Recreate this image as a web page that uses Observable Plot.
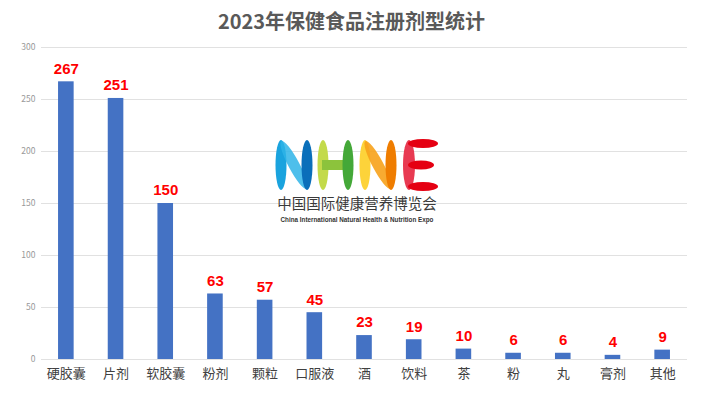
<!DOCTYPE html>
<html><head><meta charset="utf-8">
<script src="https://cdn.jsdelivr.net/npm/d3@7"></script>
<script src="https://cdn.jsdelivr.net/npm/@observablehq/plot@0.6"></script>
<style>
body{margin:0;background:#fff;font-family:"Noto Sans CJK SC","Noto Sans",sans-serif;}
#wrap{position:relative;width:703px;height:398px;overflow:hidden;}
#title{height:38px;line-height:42px;text-align:center;font-size:20px;font-weight:bold;color:#595959;}
#logo{position:absolute;left:0;top:0;pointer-events:none;}
</style></head>
<body><div id="wrap"><div id="title">2023年保健食品注册剂型统计</div><div id="chart"></div>
<svg id="logo" width="703" height="398">
 <g>
  <ellipse cx="281" cy="165" rx="5.5" ry="25" fill="#1aa3de"/>
  <ellipse cx="294" cy="165" rx="5.5" ry="27" fill="#2fb4e8" opacity="0.85" transform="rotate(-28 294 165)"/>
  <ellipse cx="307" cy="165" rx="5.5" ry="25" fill="#0a6fba"/>
  <ellipse cx="323" cy="165" rx="5.5" ry="25" fill="#c3da4a"/>
  <rect x="322" y="160" width="27" height="10" fill="#8cc33c"/>
  <ellipse cx="348" cy="165" rx="5.5" ry="25" fill="#44a838"/>
  <ellipse cx="365" cy="165" rx="5.5" ry="25" fill="#fdd33a"/>
  <ellipse cx="378" cy="165" rx="5.5" ry="27" fill="#f7a21b" opacity="0.9" transform="rotate(-28 378 165)"/>
  <ellipse cx="391" cy="165" rx="5.5" ry="25" fill="#ef7d00"/>
  <ellipse cx="409" cy="165" rx="6" ry="25" fill="#e83a52"/>
  <ellipse cx="423" cy="143.5" rx="15" ry="4.5" fill="#e50012"/>
  <ellipse cx="421" cy="165" rx="13" ry="4.5" fill="#e50012"/>
  <ellipse cx="423" cy="186.5" rx="15" ry="4.5" fill="#e50012"/>
  <text x="357" y="209" text-anchor="middle" font-size="14.5" fill="#3a3a3a" font-family="Noto Sans CJK SC">中国国际健康营养博览会</text>
  <text x="357" y="222" text-anchor="middle" font-size="6.3" font-weight="bold" fill="#333" font-family="Liberation Sans">China International Natural Health &amp; Nutrition Expo</text>
 </g>
</svg>
</div>
<script>
const categories = ["硬胶囊","片剂","软胶囊","粉剂","颗粒","口服液","酒","饮料","茶","粉","丸","膏剂","其他"];
const values = [267,251,150,63,57,45,23,19,10,6,6,4,9];
const yTicks = [0,50,100,150,200,250,300];
const data = categories.map((c,i)=>({cat:c, v:values[i]}));
const chart = Plot.plot({
  width:703, height:360,
  marginTop:9, marginBottom:39, marginLeft:41, marginRight:16,
  style:{fontFamily:"'Noto Sans CJK SC','Noto Sans',sans-serif", background:"#fff"},
  x:{domain:categories, paddingInner:0.686, paddingOuter:0.343, round:false, label:null},
  y:{domain:[0,300], label:null},
  marks:[
    Plot.gridY(yTicks,{stroke:"#d9d9d9", strokeOpacity:1, strokeWidth:0.8}),
    Plot.axisY({ticks:yTicks, tickSize:0, tickPadding:6, fontSize:8.5, fill:"#999", label:null}),
    Plot.barY(data,{x:"cat", y:"v", fill:"#4472C4"}),
    Plot.axisX({tickSize:0, tickPadding:9, fontSize:13, fill:"#404040", label:null}),
    Plot.text(data,{x:"cat", y:"v", text:d=>String(d.v), dy:-13, fill:"#ff0000", fontSize:15, fontWeight:"bold", fontFamily:"Liberation Sans, Arial, sans-serif"})
  ]
});
document.getElementById("chart").appendChild(chart);
</script></body></html>
